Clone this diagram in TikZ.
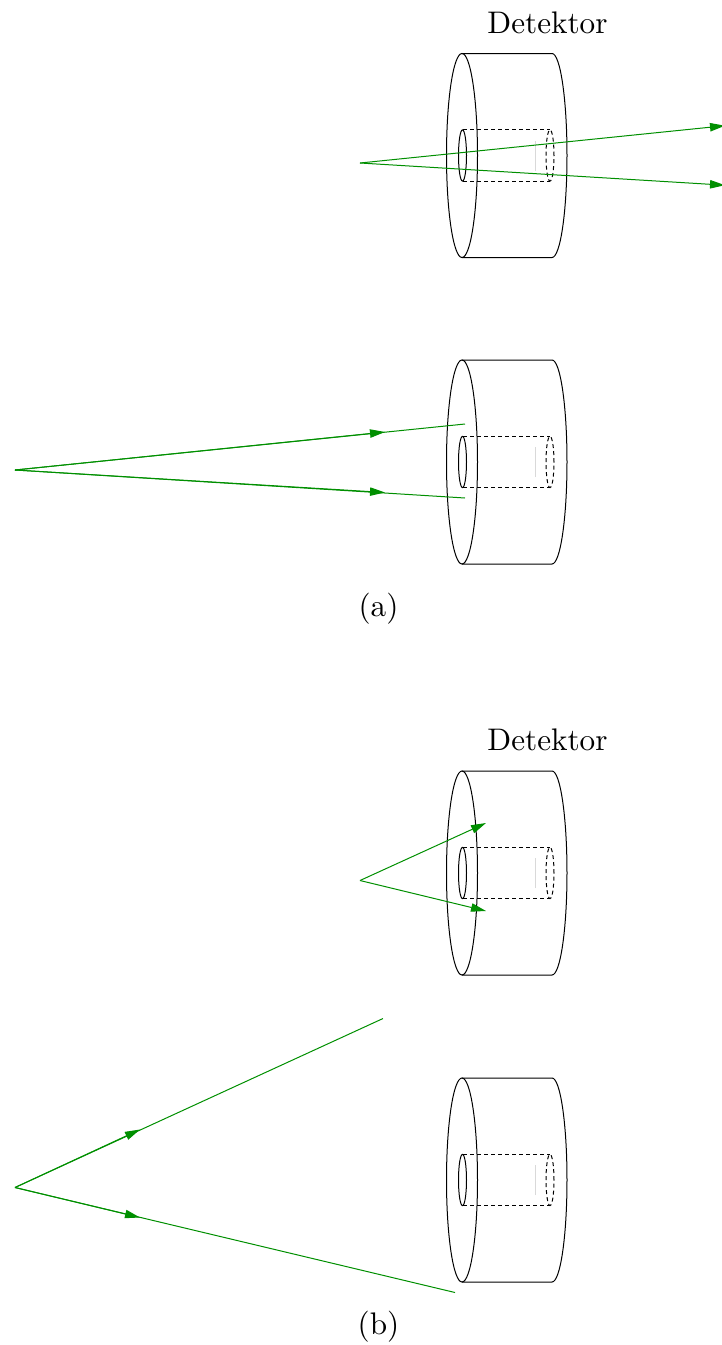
\documentclass[tikz,border=0pt]{standalone}
\usetikzlibrary{arrows.meta}
\definecolor{raygreen}{rgb}{0,0.56,0}
\tikzset{
  x=0.5pt,y=-0.5pt,
  body/.style={draw=black,line width=0.5pt},
  hidden/.style={draw=black,line width=0.5pt,dash pattern=on 2pt off 1.5pt},
  ray/.style={draw=raygreen,line width=0.5pt},
  rayarrow/.style={ray,-{Triangle[length=7.5pt,width=4.2pt]}},
  lab/.style={font=\normalsize,inner sep=0pt,scale=1.56},
  detector/.pic={
    \draw[body] (0,0) ellipse [x radius=7.75pt,y radius=51pt];
    \draw[body] (0,51pt) -- (45pt,51pt) arc [start angle=90,end angle=-90,x radius=7.5pt,y radius=51pt] -- (0,-51pt);
    \draw[body] (0.25pt,0) ellipse [x radius=2pt,y radius=12.8pt];
    \draw[hidden] (0.5pt,12.8pt) -- (44pt,12.8pt);
    \draw[hidden] (0.5pt,-12.8pt) -- (44pt,-12.8pt);
    \draw[hidden] (44pt,0) ellipse [x radius=2pt,y radius=12.8pt];
    \draw[black!15,line width=0.3pt] (36.7pt,-7.5pt) -- (36.7pt,7.5pt);
  }
}
\begin{document}
\begin{tikzpicture}
\useasboundingbox (0,0) rectangle (722,1345);
\pic at (462,155.5) {detector};
\pic at (462,462) {detector};
\pic at (462,873) {detector};
\pic at (462,1180) {detector};

\node[lab] (d1) at (547.5,22.5) {Detektor};
\node[lab] (d2) at (547.5,739.5) {Detektor};
\node[lab] (la) at (378.5,608.5) {(a)};
\node[lab] (lb) at (378.5,1326.5) {(b)};

\coordinate (o1) at (360,163);
\coordinate (e1a) at (725,125.7);
\coordinate (e1b) at (725,185.2);
\draw[rayarrow] (o1) -- (e1a);
\draw[rayarrow] (o1) -- (e1b);

\coordinate (o2) at (15,470);
\coordinate (m2a) at (385,432);
\coordinate (e2a) at (465,424);
\coordinate (m2b) at (385,492.5);
\coordinate (e2b) at (465,498);
\draw[rayarrow] (o2) -- (m2a);
\draw[ray] (o2) -- (e2a);
\draw[rayarrow] (o2) -- (m2b);
\draw[ray] (o2) -- (e2b);

\coordinate (o3) at (360,880.5);
\coordinate (e3a) at (486,823);
\coordinate (e3b) at (486,911);
\draw[rayarrow] (o3) -- (e3a);
\draw[rayarrow] (o3) -- (e3b);

\coordinate (o4) at (15,1187.5);
\coordinate (m4a) at (140,1129.5);
\coordinate (e4a) at (383,1018.5);
\coordinate (m4b) at (140,1217.5);
\coordinate (e4b) at (455,1292.5);
\draw[rayarrow] (o4) -- (m4a);
\draw[ray] (o4) -- (e4a);
\draw[rayarrow] (o4) -- (m4b);
\draw[ray] (o4) -- (e4b);
\end{tikzpicture}
\end{document}
